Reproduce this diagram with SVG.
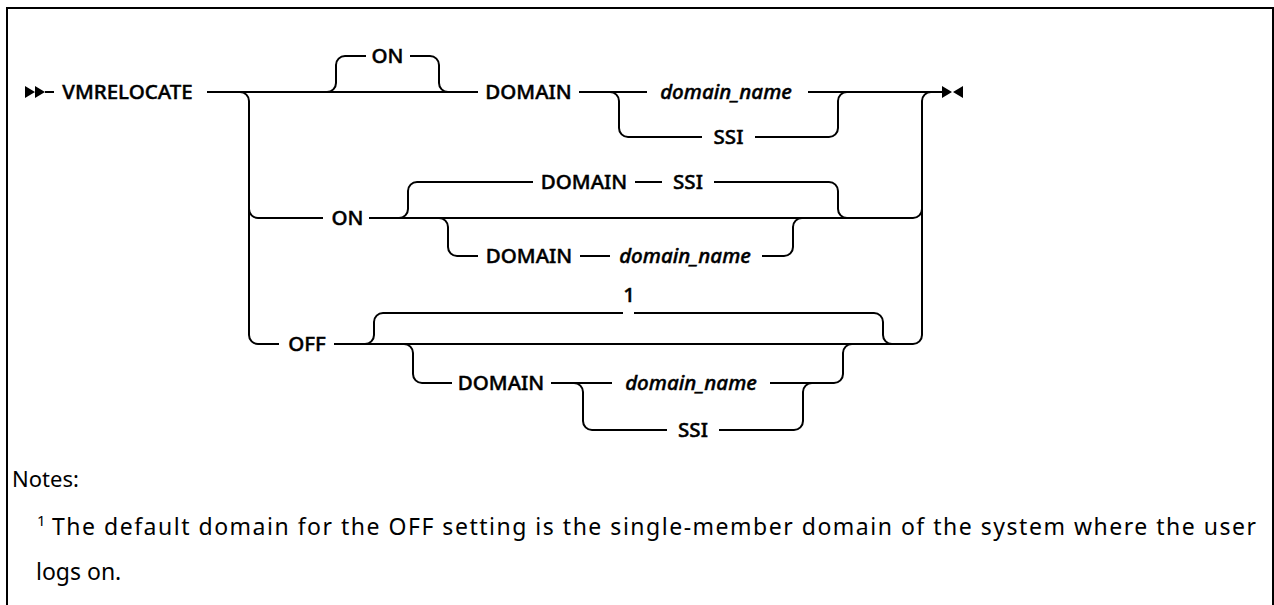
<svg xmlns="http://www.w3.org/2000/svg" width="1274" height="605" viewBox="0 0 1274 605">
<style>
.ln{fill:none;stroke:#000;stroke-width:2}
.t{font-family:"Noto Sans","Liberation Sans",sans-serif;font-size:20.5px;font-weight:500;fill:#000;stroke:#000;stroke-width:0.45;text-anchor:middle}
.i{font-style:italic}
.n{font-family:"Noto Sans","Liberation Sans",sans-serif;font-size:22px;fill:#000}
.sup{font-size:15px}
.big{font-size:23px}
.tri{fill:#000}
</style>
<rect width="1274" height="605" fill="#fff"/>
<path class="ln" d="M7,605 V8 H1273 V605"/>
<g id="connectors">
<path class="tri" d="M25,86 L35,92 L25,98 Z M35,86 L45,92 L35,98 Z"/>
<path class="ln" d="M45,92 H54"/>
<path class="ln" d="M207,92 H478"/>
<path class="ln" d="M327,92 A9,9 0 0 0 336,83 V65 A9,9 0 0 1 345,56 H366 M410,56 H430 A9,9 0 0 1 439,65 V83 A9,9 0 0 0 448,92"/>
<path class="ln" d="M579,92 H647 M808,92 H942"/>
<path class="ln" d="M610,92 A9,9 0 0 1 619,101 V128 A9,9 0 0 0 628,137 H702 M755,137 H829 A9,9 0 0 0 838,128 V101 A9,9 0 0 1 847,92"/>
<path class="ln" d="M240,92 A9,9 0 0 1 249,101 V335 A9,9 0 0 0 258,344 H279"/>
<path class="ln" d="M249,209 A9,9 0 0 0 258,218 H323"/>
<path class="ln" d="M922,335 V101 A9,9 0 0 1 931,92"/>
<path class="ln" d="M369,218 H913 A9,9 0 0 0 922,209"/>
<path class="ln" d="M399,218 A9,9 0 0 0 408,209 V191 A9,9 0 0 1 417,182 H533 M635,182 H662 M714,182 H829 A9,9 0 0 1 838,191 V209 A9,9 0 0 0 847,218"/>
<path class="ln" d="M439,218 A9,9 0 0 1 448,227 V247 A9,9 0 0 0 457,256 H478 M580,256 H610 M762,256 H784 A9,9 0 0 0 793,247 V227 A9,9 0 0 1 802,218"/>
<path class="ln" d="M334,344 H913 A9,9 0 0 0 922,335"/>
<path class="ln" d="M365,344 A9,9 0 0 0 374,335 V322 A9,9 0 0 1 383,313 H623 M634,313 H874 A9,9 0 0 1 883,322 V335 A9,9 0 0 0 892,344"/>
<path class="ln" d="M404,344 A9,9 0 0 1 413,353 V374 A9,9 0 0 0 422,383 H452 M551,383 H612 M770,383 H834 A9,9 0 0 0 843,374 V353 A9,9 0 0 1 852,344"/>
<path class="ln" d="M574,383 A9,9 0 0 1 583,392 V421 A9,9 0 0 0 592,430 H667 M719,430 H794 A9,9 0 0 0 803,421 V392 A9,9 0 0 1 812,383"/>
<path class="tri" d="M942,86 L952,92 L942,98 Z M963,86 L953,92 L963,98 Z"/>
</g>
<g id="n-vmrelocate"><text class="t" x="127.5" y="99">VMRELOCATE</text></g>
<g id="n-on-default"><text class="t" x="387.5" y="63">ON</text></g>
<g id="n-domain1"><text class="t" x="528.5" y="99">DOMAIN</text></g>
<g id="n-domainname1"><text class="t i" x="726" y="99">domain_name</text></g>
<g id="n-ssi1"><text class="t" x="728.5" y="144">SSI</text></g>
<g id="n-on"><text class="t" x="347.5" y="225">ON</text></g>
<g id="n-domain-ssi"><text class="t" x="584" y="189">DOMAIN</text><text class="t" x="688" y="189">SSI</text></g>
<g id="n-domain2"><text class="t" x="529" y="263">DOMAIN</text><text class="t i" x="685" y="263">domain_name</text></g>
<g id="n-off"><text class="t" x="307" y="351">OFF</text></g>
<g id="n-note-ref"><text class="t" x="629" y="302">1</text></g>
<g id="n-domain3"><text class="t" x="501" y="390">DOMAIN</text></g>
<g id="n-domainname3"><text class="t i" x="691" y="390">domain_name</text></g>
<g id="n-ssi3"><text class="t" x="693" y="437">SSI</text></g>
<g id="notes">
<text class="n" x="12" y="487">Notes:</text>
<text class="n sup" x="37" y="526">1</text>
<text class="n big" x="52" y="535" textLength="1204" lengthAdjust="spacing">The default domain for the OFF setting is the single-member domain of the system where the user</text>
<text class="n big" x="36" y="580">logs on.</text>
</g>
</svg>
